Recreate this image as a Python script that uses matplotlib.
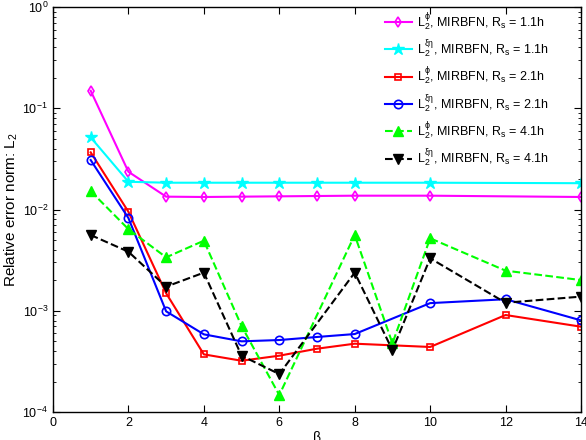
import matplotlib
matplotlib.use("Agg")
import matplotlib.pyplot as plt
from matplotlib.ticker import LogLocator, NullFormatter

plt.rcParams['font.family'] = ['Liberation Sans', 'DejaVu Sans']
plt.rcParams['mathtext.fontset'] = 'custom'
plt.rcParams['mathtext.rm'] = 'Liberation Sans'
plt.rcParams['mathtext.it'] = 'Liberation Sans'
plt.rcParams['mathtext.sf'] = 'Liberation Sans'

# beta values for each series
beta_a = [1, 2, 3, 4, 5, 6, 7, 8, 10, 14]
beta_b = [1, 2, 3, 4, 5, 6, 7, 8, 10, 12, 14]
beta_c = [1, 2, 3, 4, 5, 6, 8, 9, 10, 12, 14]

phi_11 = [0.149, 0.0236, 0.0134, 0.0133, 0.0134, 0.0135, 0.0136, 0.0137, 0.0137, 0.0133]
xe_11 = [0.0516, 0.0188, 0.0184, 0.0184, 0.0184, 0.0184, 0.0184, 0.0184, 0.0184, 0.0182]
phi_21 = [0.0367, 0.0095, 1.49e-3, 3.71e-4, 3.21e-4, 3.60e-4, 4.22e-4, 4.73e-4, 4.39e-4, 9.08e-4, 6.96e-4]
xe_21 = [0.0308, 8.24e-3, 9.87e-4, 5.85e-4, 4.99e-4, 5.14e-4, 5.51e-4, 5.89e-4, 1.19e-3, 1.30e-3, 8.04e-4]
phi_41 = [0.0152, 6.4e-3, 3.37e-3, 4.92e-3, 7.07e-4, 1.47e-4, 5.6e-3, 4.77e-4, 5.2e-3, 2.49e-3, 2.01e-3]
xe_41 = [5.6e-3, 3.83e-3, 1.73e-3, 2.38e-3, 3.6e-4, 2.37e-4, 2.38e-3, 4.09e-4, 3.30e-3, 1.20e-3, 1.38e-3]

labels = [
    r'$\mathregular{L_2^{\phi}}$, MIRBFN, $\mathregular{R_s}$ = 1.1h',
    r'$\mathregular{L_2^{\xi\eta}}$, MIRBFN, $\mathregular{R_s}$ = 1.1h',
    r'$\mathregular{L_2^{\phi}}$, MIRBFN, $\mathregular{R_s}$ = 2.1h',
    r'$\mathregular{L_2^{\xi\eta}}$, MIRBFN, $\mathregular{R_s}$ = 2.1h',
    r'$\mathregular{L_2^{\phi}}$, MIRBFN, $\mathregular{R_s}$ = 4.1h',
    r'$\mathregular{L_2^{\xi\eta}}$, MIRBFN, $\mathregular{R_s}$ = 4.1h',
]

fig = plt.figure(figsize=(5.86, 4.4), dpi=100)
ax = fig.add_axes([0.0904, 0.0636, 0.9011, 0.9204])

lw = 1.5
ax.semilogy(beta_a, phi_11, '-', color='#ff00ff', marker='d', ms=5.5, mfc='none', mew=1.2, lw=lw, label=labels[0])
ax.semilogy(beta_a, xe_11, '-', color='#00ffff', marker='*', ms=9, lw=lw, label=labels[1])
ax.semilogy(beta_b, phi_21, '-', color='#ff0000', marker='s', ms=5, mfc='none', mew=1.2, lw=lw, label=labels[2])
ax.semilogy(beta_b, xe_21, '-', color='#0000ff', marker='o', ms=6, mfc='none', mew=1.2, lw=lw, label=labels[3])
ax.semilogy(beta_c, phi_41, '--', color='#00ff00', marker='^', ms=7, lw=lw, label=labels[4])
ax.semilogy(beta_c, xe_41, '--', color='#000000', marker='v', ms=7, lw=lw, label=labels[5])

ax.set_xlim(0, 14)
ax.set_ylim(1e-4, 1)
ax.set_xticks(range(0, 15, 2))
ax.yaxis.set_minor_locator(LogLocator(base=10, subs=range(2, 10)))
ax.yaxis.set_minor_formatter(NullFormatter())
ax.tick_params(which='both', direction='in', top=True, right=True, labelsize=9)
ax.tick_params(which='major', length=5)
ax.tick_params(which='minor', length=2.5)
for s in ax.spines.values():
    s.set_linewidth(1.0)

ax.set_xlabel(r'$\mathregular{\beta}$', fontsize=10, labelpad=0)
ax.set_ylabel(r'Relative error norm: $\mathregular{L_2}$', fontsize=11, labelpad=2)

ax.legend(loc='upper left', bbox_to_anchor=(0.628, 0.99), frameon=False, fontsize=9,
          handlelength=2.2, handletextpad=0.4, labelspacing=0.45,
          borderpad=0, borderaxespad=0)

fig.savefig('out.png', dpi=100)
